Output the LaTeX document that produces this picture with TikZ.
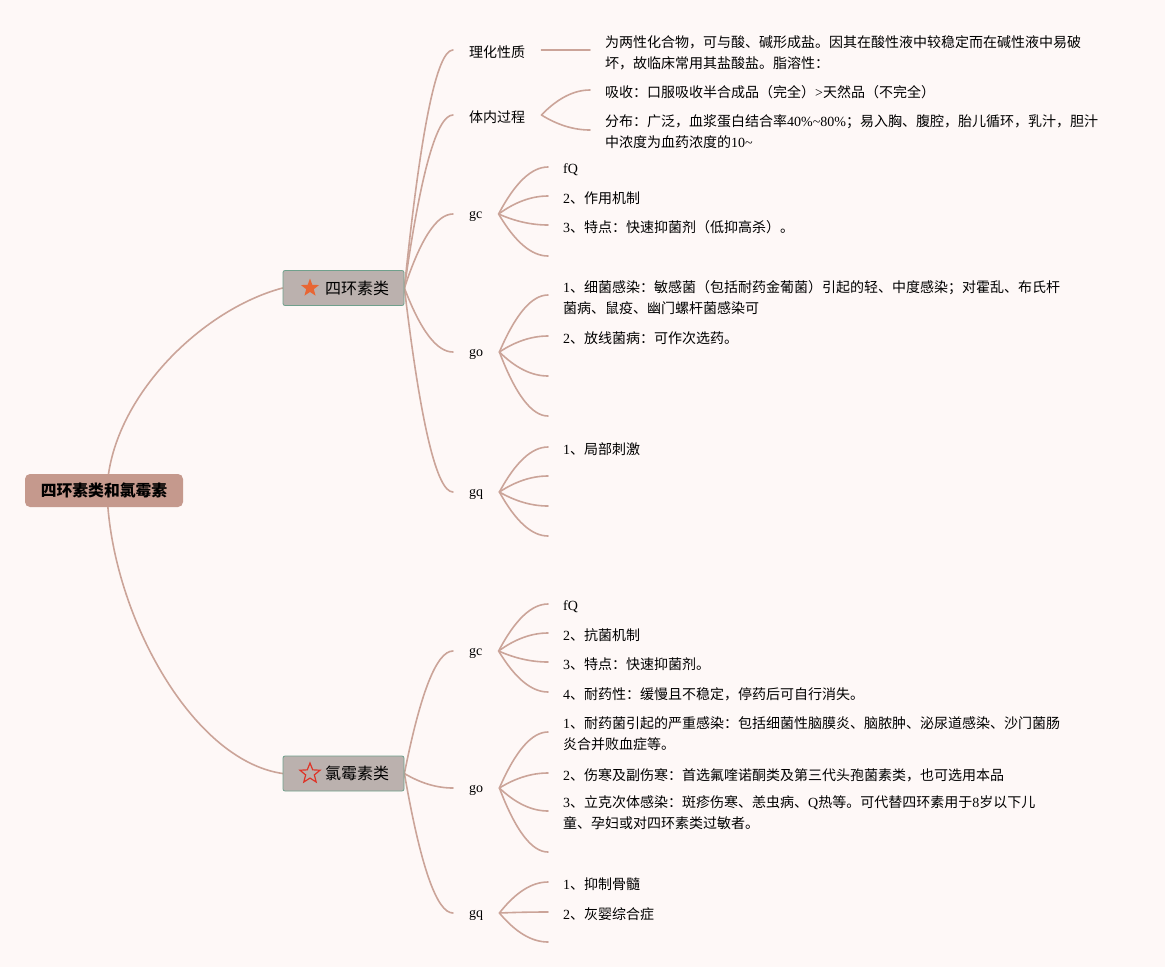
\documentclass[tikz,border=0pt]{standalone}
\usepackage{fontspec}
\setmainfont{Liberation Serif}
\newfontfamily\cjk{Noto Sans CJK SC}
\usetikzlibrary{calc,shapes.geometric}
\definecolor{bg}{RGB}{254,248,247}
\definecolor{ln}{RGB}{203,164,153}
\definecolor{rootfill}{RGB}{197,153,141}
\definecolor{boxfill}{RGB}{187,177,174}
\definecolor{boxline}{RGB}{112,160,140}
\definecolor{staror}{RGB}{232,102,52}
\definecolor{starred}{RGB}{222,52,40}
\newcommand\en[1]{{\rmfamily #1}}
\newcommand\topstrut[1]{\rule{0pt}{#1}}
\pgfdeclarelayer{back}
\pgfdeclarelayer{lines}
\pgfsetlayers{back,lines,main}
\tikzset{
  every node/.style={font=\cjk\fontsize{14pt}{20.5pt}\selectfont, text=black},
  lab/.style={anchor=west, inner xsep=16pt, inner ysep=0pt},
  one/.style={text height=15pt, text depth=1pt},
  serif/.style={font=\rmfamily\fontsize{14pt}{20.5pt}\selectfont, text height=11.4pt, text depth=3pt},
  serifleaf/.style={font=\rmfamily\fontsize{14pt}{20.5pt}\selectfont, text height=16pt, text depth=3pt},
  leaf/.style={anchor=west, inner xsep=15pt, inner ysep=0pt, align=left},
  wire/.style={draw=ln, line width=1.6pt, line cap=round},
  link/.style={wire, to path={let \p1=(\tikztostart), \p2=(\tikztotarget) in
     .. controls ({\x1+(\x2-\x1)/3},{\y1+2*(\y2-\y1)/3}) and ({\x1+2*(\x2-\x1)/3},\y2) .. (\tikztotarget)}},
  branchbox/.style={fill=boxfill, draw=boxline, line width=0.8pt, rounded corners=2pt, minimum width=121pt, minimum height=35pt, inner sep=0pt},
  branchtext/.style={font=\cjk\fontsize{16pt}{18pt}\selectfont, inner sep=0pt},
}
\begin{document}
\begin{tikzpicture}[x=1pt,y=-1pt]
\begin{pgfonlayer}{back}
\fill[bg] (0,0) rectangle (1165,967);
\end{pgfonlayer}
\useasboundingbox (0,0) rectangle (1165,967);

% root and branches
\node[fill=rootfill, rounded corners=5pt, minimum width=158pt, minimum height=33pt, inner sep=0pt,
      font=\cjk\bfseries\fontsize{15.8pt}{18pt}\selectfont] (root) at (104,490.5) {四环素类和氯霉素};
\coordinate (rootc) at ($(root.center)+(3,0)$);

\node[branchbox] (b1) at (343.5,288) {};
\node[star, star points=5, star point ratio=2.4, fill=staror, minimum size=19pt, inner sep=0pt] (s1) at (310,288) {};
\node[branchtext] (t1) at (357,288) {四环素类};

\node[branchbox] (b2) at (343.5,773.5) {};
\node[star, star points=5, star point ratio=2.3, draw=starred, line width=1.2pt, minimum size=21pt, inner sep=0pt] (s2) at (310,773.5) {};
\node[branchtext] (t2) at (357,773.5) {氯霉素类};

% ---------- branch 1 ----------
\node[lab, one] (a1) at (453,50) {理化性质};
\node[leaf] (a1x) at (590,50) {\topstrut{17pt}为两性化合物，可与酸、碱形成盐。因其在酸性液中较稳定而在碱性液中易破\\坏，故临床常用其盐酸盐。脂溶性：};

\node[lab, one] (a2) at (453,115) {体内过程};
\node[leaf, one] (a2a) at (590,90) {吸收：口服吸收半合成品（完全）\en{>}天然品（不完全）};
\node[leaf] (a2b) at (590,130) {\topstrut{15pt}分布：广泛，血浆蛋白结合率\en{40\%\textasciitilde80\%}；易入胸、腹腔，胎儿循环，乳汁，胆汁\\中浓度为血药浓度的\en{10\textasciitilde}};

\node[lab, serif] (a3) at (453,214) {gc};
\node[leaf, serifleaf] (a3a) at (548,167) {fQ};
\node[leaf, one] (a3b) at (548,196) {\en{2}、作用机制};
\node[leaf, one] (a3c) at (548,225) {\en{3}、特点：快速抑菌剂（低抑高杀）。};
\coordinate (a3d) at (548,256);

\node[lab, serif] (a4) at (453,352) {go};
\node[leaf] (a4a) at (548,295) {\topstrut{17pt}\en{1}、细菌感染：敏感菌（包括耐药金葡菌）引起的轻、中度感染；对霍乱、布氏杆\\菌病、鼠疫、幽门螺杆菌感染可};
\node[leaf, one] (a4b) at (548,336) {\en{2}、放线菌病：可作次选药。};
\coordinate (a4c) at (548,376);
\coordinate (a4d) at (548,416);

\node[lab, serif] (a5) at (453,492) {gq};
\node[leaf, one] (a5a) at (548,447) {\en{1}、局部刺激};
\coordinate (a5b) at (548,476);
\coordinate (a5c) at (548,506);
\coordinate (a5d) at (548,536);

% ---------- branch 2 ----------
\node[lab, serif] (c1) at (453,651) {gc};
\node[leaf, serifleaf] (c1a) at (548,604) {fQ};
\node[leaf, one] (c1b) at (548,633) {\en{2}、抗菌机制};
\node[leaf, one] (c1c) at (548,662) {\en{3}、特点：快速抑菌剂。};
\node[leaf, one] (c1d) at (548,692) {\en{4}、耐药性：缓慢且不稳定，停药后可自行消失。};

\node[lab, serif] (c2) at (453,788) {go};
\node[leaf] (c2a) at (548,732) {\topstrut{15pt}\en{1}、耐药菌引起的严重感染：包括细菌性脑膜炎、脑脓肿、泌尿道感染、沙门菌肠\\炎合并败血症等。};
\node[leaf, one] (c2b) at (548,773) {\en{2}、伤寒及副伤寒：首选氟喹诺酮类及第三代头孢菌素类，也可选用本品};
\node[leaf] (c2c) at (548,811) {\topstrut{15pt}\en{3}、立克次体感染：斑疹伤寒、恙虫病、\en{Q}热等。可代替四环素用于\en{8}岁以下儿\\童、孕妇或对四环素类过敏者。};
\coordinate (c2d) at (548,852);

\node[lab, serif] (c3) at (453,913) {gq};
\node[leaf, one] (c3a) at (548,882) {\en{1}、抑制骨髓};
\node[leaf, one] (c3b) at (548,912) {\en{2}、灰婴综合症};
\coordinate (c3c) at (548,942);

% ---------- connectors ----------
\begin{pgfonlayer}{lines}
\draw[wire] (rootc) .. controls (110,400) and (200,310) .. (b1.west);
\draw[wire] (rootc) .. controls (110,610) and (190,760) .. (b2.west);

\foreach \t in {a1,a2,a3,a4,a5} \draw[link] (b1.east) to (\t.west);
\foreach \t in {c1,c2,c3} \draw[link] (b2.east) to (\t.west);

\draw[wire] (a1.east) -- (a1x.west);
\draw[link] (a2.east) to (a2a.west);
\draw[link] (a2.east) to (a2b.west);
\foreach \t in {a3a,a3b,a3c} \draw[link] (a3.east) to (\t.west);
\draw[link] (a3.east) to (a3d);
\foreach \t in {a4a,a4b} \draw[link] (a4.east) to (\t.west);
\foreach \t in {a4c,a4d} \draw[link] (a4.east) to (\t);
\draw[link] (a5.east) to (a5a.west);
\foreach \t in {a5b,a5c,a5d} \draw[link] (a5.east) to (\t);

\foreach \t in {c1a,c1b,c1c,c1d} \draw[link] (c1.east) to (\t.west);
\foreach \t in {c2a,c2b,c2c} \draw[link] (c2.east) to (\t.west);
\draw[link] (c2.east) to (c2d);
\foreach \t in {c3a,c3b} \draw[link] (c3.east) to (\t.west);
\draw[link] (c3.east) to (c3c);
\end{pgfonlayer}
\end{tikzpicture}
\end{document}
